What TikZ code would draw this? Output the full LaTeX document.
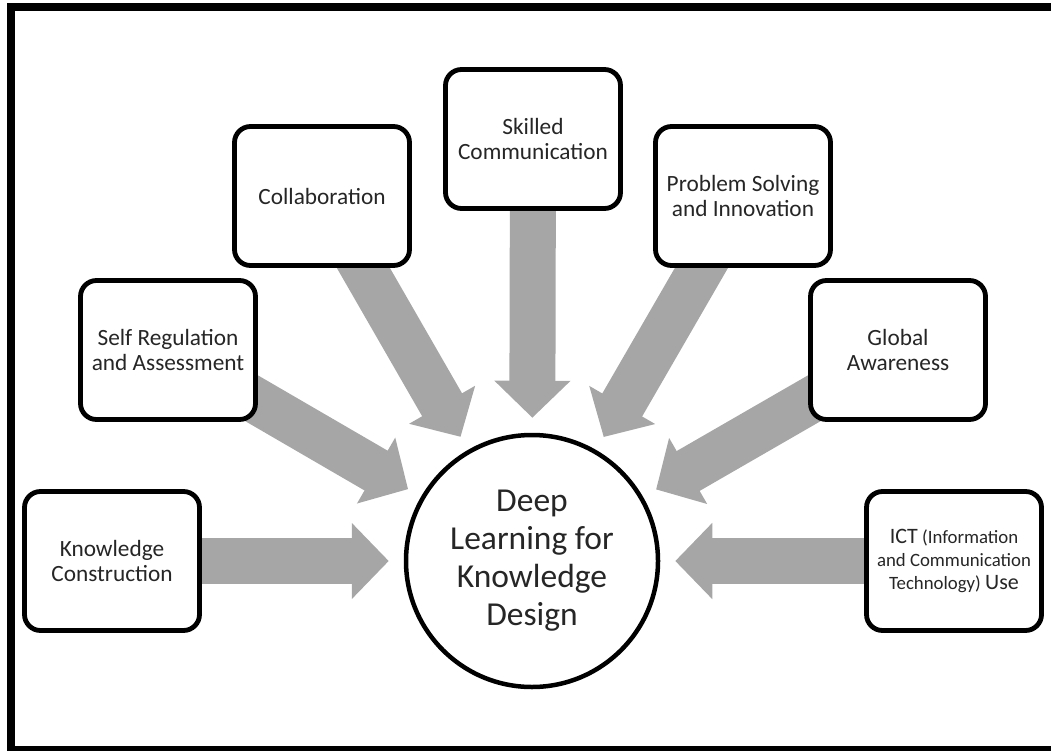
\documentclass[tikz,border=0pt]{standalone}
\usepackage{fontspec}
\setmainfont{Carlito}
\usetikzlibrary{arrows.meta, backgrounds}
\definecolor{blockgray}{RGB}{166,166,166}
\newcommand{\ictbig}{\fontsize{22}{23}\selectfont}

\begin{document}
\begin{tikzpicture}[x=1pt, y=-1pt,
      box/.style={draw, line width=4.8pt, rounded corners=16pt, fill=white,
                  minimum width=175pt, minimum height=139pt, align=center,
                  text=black!85, font=\fontsize{23.3}{25.5}\selectfont},
      core/.style={circle, draw, line width=4.5pt, fill=white,
                   minimum size=252pt, align=center, inner sep=0pt,
                   text=black!85, font=\fontsize{33.5}{38}\selectfont},
      arr/.style={blockgray, line width=46pt, shorten <=-40pt, shorten >=15pt,
                  -{Triangle[length=37pt, width=74pt]}}
    ]
      \useasboundingbox (0,0) rectangle (1051,751);
      \clip (0,0) rectangle (1051,751);
      % outer frame, cut off on the right
      \draw[line width=8pt] (1080,7.5) -| (11,749.5) -- (1080,749.5);

      \node[core] (c) at (532,561) {Deep\\Learning for\\Knowledge\\Design};

      \node[box] (know)   at (112,561) {Knowledge\\Construction};
      \node[box] (self)   at (168,350) {Self Regulation\\and Assessment};
      \node[box] (collab) at (322,196) {Collaboration};
      \node[box] (skill)  at (533,139) {Skilled\\Communication};
      \node[box] (prob)   at (743,196) {Problem Solving\\and Innovation};
      \node[box] (glob)   at (898,350) {Global\\Awareness};
      \node[box, inner sep=1pt, font=\fontsize{18.8}{23}\selectfont] (ict) at (954,561)
        {{\ictbig ICT} (Information\\and Communication\\Technology) {\ictbig Use}};

      % block arrows behind the boxes
      \begin{scope}[on background layer]
        \foreach \b in {know,self,collab,skill,prob,glob,ict}
          \draw[arr] (\b) -- (c);
      \end{scope}
    \end{tikzpicture}
\end{document}
